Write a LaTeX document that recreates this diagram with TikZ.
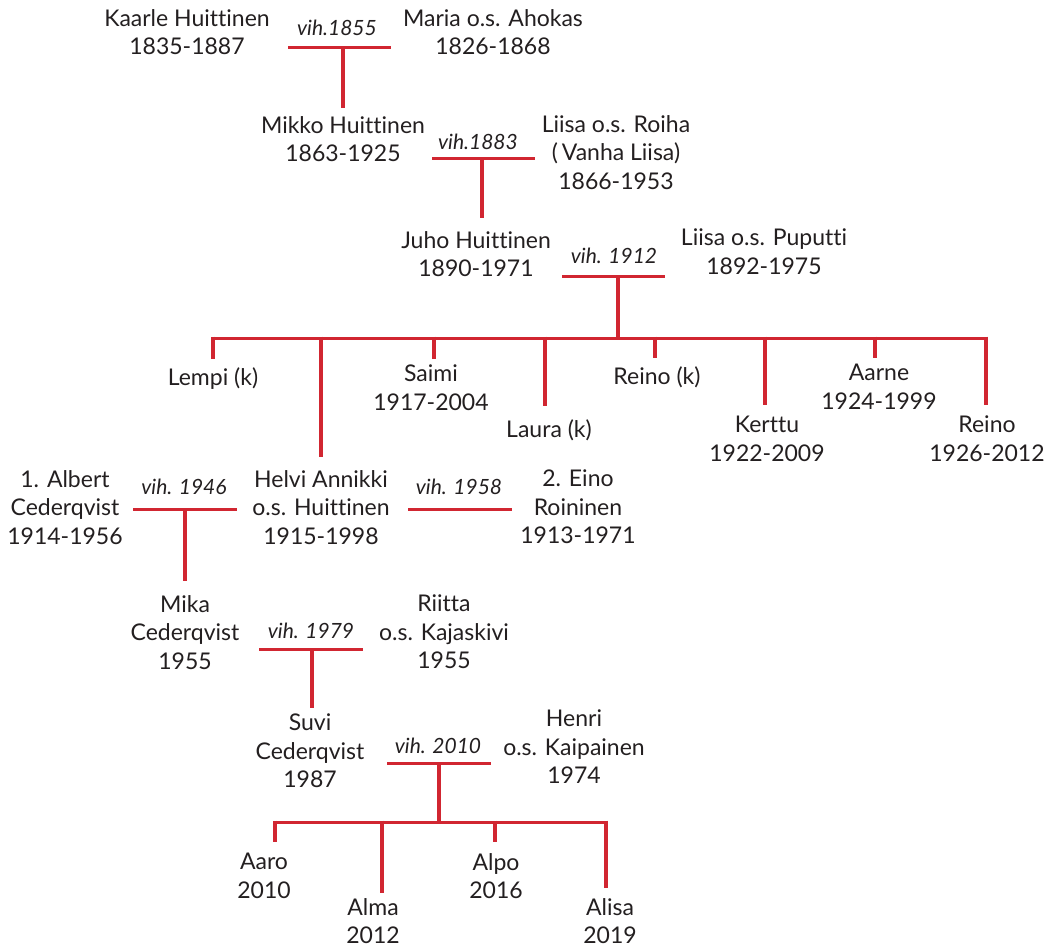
\documentclass[tikz,border=0pt]{standalone}
\usepackage{fontspec}
\setmainfont[Ligatures=NoCommon]{Lato}
\definecolor{tred}{HTML}{D12631}
\definecolor{ink}{HTML}{231F20}
\begin{document}
\begin{tikzpicture}[x=1pt,y=-1pt,
  txt/.style={anchor=north, yshift=9pt, inner sep=0pt, align=center, text=ink,
    font=\fontsize{23}{28.5}\selectfont},
  person/.style={txt, execute at begin node=\strut},
  wed/.style={txt, font=\fontsize{21}{28.5}\selectfont\itshape, execute at begin node=\strut},
  hline/.style={draw=tred, line width=3pt},
  vline/.style={draw=tred, line width=4pt}]
\useasboundingbox (0,0) rectangle (1054,949);

% ---------- generation 1
\node[person] (kaarle) at (187,18) {Kaarle Huittinen\\1835-1887};
\node[wed] (w1) at (337,24) {vih.1855};
\node[person] (maria) at (493,18) {Maria o.s. Ahokas\\1826-1868};
\coordinate (m1l) at (288,48); \coordinate (m1r) at (391,48); \coordinate (j1) at (343,48);

% ---------- generation 2
\node[person] (mikko) at (343,125) {Mikko Huittinen\\1863-1925};
\node[wed] (w2) at (478,138) {vih.1883};
\node[person] (liisar) at (616,124) {Liisa o.s. Roiha\\(\,Vanha Liisa)\\1866-1953};
\coordinate (m2l) at (432,159); \coordinate (m2r) at (535,159); \coordinate (j2) at (482,159);

% ---------- generation 3
\node[person] (juho) at (476,240) {Juho Huittinen\\1890-1971};
\node[wed] (w3) at (614,252) {vih. 1912};
\node[person] (liisap) at (764,238) {Liisa o.s. Puputti\\1892-1975};
\coordinate (m3l) at (562,277); \coordinate (m3r) at (665,277); \coordinate (j3) at (618,277);
\coordinate (bar) at (618,338);
\coordinate (bL) at (213,338); \coordinate (bR) at (986,338);

% ---------- children of Juho
\node[person] (lempi)  at (213,374) {Lempi (k)};
\node[person] (helvi)  at (321,479) {Helvi Annikki\\o.s. Huittinen\\1915-1998};
\node[person] (saimi)  at (431,374) {Saimi\\1917-2004};
\node[person] (laura)  at (549,426) {Laura (k)};
\node[person] (reinok) at (657,373) {Reino (k)};
\node[person] (kerttu) at (767,425) {Kerttu\\1922-2009};
\node[person] (aarne)  at (879,373) {Aarne\\1924-1999};
\node[person] (reino)  at (987,425) {Reino\\1926-2012};
\coordinate (cLempi) at (213,338); \coordinate (cHelvi) at (321,338);
\coordinate (cSaimi) at (434,338); \coordinate (cLaura) at (545,338);
\coordinate (cReinok) at (655,338); \coordinate (cKerttu) at (765,338);
\coordinate (cAarne) at (875,338); \coordinate (cReino) at (986,338);

% ---------- Helvi's marriages
\node[person] (albert) at (65,479) {1. Albert\\Cederqvist\\1914-1956};
\node[wed] (w4) at (184,483) {vih. 1946};
\node[wed] (w5) at (459,483) {vih. 1958};
\node[person] (eino) at (578,479) {2. Eino\\Roininen\\1913-1971};
\coordinate (m4l) at (133,509); \coordinate (m4r) at (237,509); \coordinate (j4) at (185,509);
\coordinate (m5l) at (408,509); \coordinate (m5r) at (512,509);

% ---------- Mika
\node[person] (mika) at (185,604) {Mika\\Cederqvist\\1955};
\node[wed] (w6) at (311,627) {vih. 1979};
\node[person] (riitta) at (444,604) {Riitta\\o.s. Kajaskivi\\1955};
\coordinate (m6l) at (259,649); \coordinate (m6r) at (363,649); \coordinate (j6) at (312,649);

% ---------- Suvi
\node[person] (suvi) at (310,723) {Suvi\\Cederqvist\\1987};
\node[wed] (w7) at (438,742) {vih. 2010};
\node[person] (henri) at (574,719) {Henri\\o.s. Kaipainen\\1974};
\coordinate (m7l) at (387,763); \coordinate (m7r) at (491,763); \coordinate (j7) at (439,763);
\coordinate (bar2) at (439,822);
\coordinate (dL) at (275,822); \coordinate (dR) at (606,822);

% ---------- grandchildren
\node[person] (aaro)  at (264,862) {Aaro\\2010};
\node[person] (alma)  at (373,907) {Alma\\2012};
\node[person] (alpo)  at (496,862) {Alpo\\2016};
\node[person] (alisa) at (610,907) {Alisa\\2019};
\coordinate (cAaro) at (275,822); \coordinate (cAlma) at (382,822);
\coordinate (cAlpo) at (495,822); \coordinate (cAlisa) at (606,822);

% ---------- connectors
\draw[hline] (m1l) -- (m1r);
\draw[vline, shorten >=8pt] (j1) -- (j1 |- mikko.north);
\draw[hline] (m2l) -- (m2r);
\draw[vline, shorten >=13pt] (j2) -- (j2 |- juho.north);
\draw[hline] (m3l) -- (m3r);
\draw[vline] (j3) -- (bar);
\draw[hline] (bL) -- (bR);
\draw[vline, shorten <=-1.5pt, shorten >=6pt]  (cLempi)  -- (cLempi  |- lempi.north);
\draw[vline, shorten <=-1.5pt, shorten >=13pt] (cHelvi)  -- (cHelvi  |- helvi.north);
\draw[vline, shorten <=-1.5pt, shorten >=6pt]  (cSaimi)  -- (cSaimi  |- saimi.north);
\draw[vline, shorten <=-1.5pt, shorten >=11pt] (cLaura)  -- (cLaura  |- laura.north);
\draw[vline, shorten <=-1.5pt, shorten >=6pt]  (cReinok) -- (cReinok |- reinok.north);
\draw[vline, shorten <=-1.5pt, shorten >=11pt] (cKerttu) -- (cKerttu |- kerttu.north);
\draw[vline, shorten <=-1.5pt, shorten >=6pt]  (cAarne)  -- (cAarne  |- aarne.north);
\draw[vline, shorten <=-1.5pt, shorten >=11pt] (cReino)  -- (cReino  |- reino.north);
\draw[hline] (m4l) -- (m4r);
\draw[hline] (m5l) -- (m5r);
\draw[vline, shorten >=14pt] (j4) -- (j4 |- mika.north);
\draw[hline] (m6l) -- (m6r);
\draw[vline, shorten >=6pt] (j6) -- (j6 |- suvi.north);
\draw[hline] (m7l) -- (m7r);
\draw[vline] (j7) -- (bar2);
\draw[hline] (dL) -- (dR);
\draw[vline, shorten <=-1.5pt, shorten >=11pt] (cAaro)  -- (cAaro  |- aaro.north);
\draw[vline, shorten <=-1.5pt, shorten >=5pt]  (cAlma)  -- (cAlma  |- alma.north);
\draw[vline, shorten <=-1.5pt, shorten >=11pt] (cAlpo)  -- (cAlpo  |- alpo.north);
\draw[vline, shorten <=-1.5pt, shorten >=10pt] (cAlisa) -- (cAlisa |- alisa.north);
\end{tikzpicture}
\end{document}
